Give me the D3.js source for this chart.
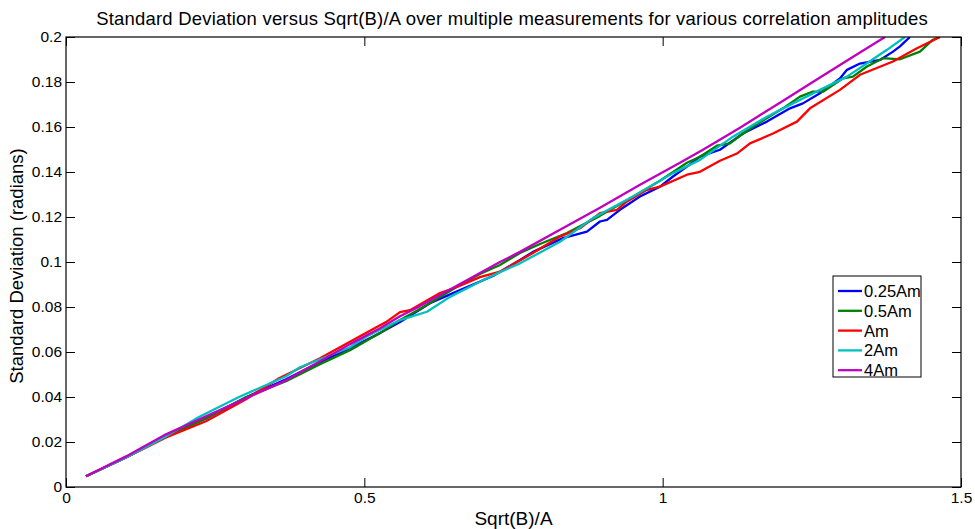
<!DOCTYPE html>
<html>
<head>
<meta charset="utf-8">
<script src="https://cdn.jsdelivr.net/npm/d3@7"></script>
<style>
  html, body { margin: 0; padding: 0; background: #fff; }
  svg text { font-family: "Liberation Sans", Arial, sans-serif; fill: #000; }
</style>
</head>
<body>
<div id="chart"></div>
<script>
// tick values and labels
const xTicks = [0, 0.5, 1, 1.5];
const xTickLabels = ["0", "0.5", "1", "1.5"];
const yTicks = [0, 0.02, 0.04, 0.06, 0.08, 0.1, 0.12, 0.14, 0.16, 0.18, 0.2];
const yTickLabels = ["0", "0.02", "0.04", "0.06", "0.08", "0.1", "0.12", "0.14", "0.16", "0.18", "0.2"];

const seriesNames = ["0.25Am", "0.5Am", "Am", "2Am", "4Am"];
const seriesColors = ["#0000ff", "#008000", "#ff0000", "#00bfbf", "#bf00bf"];

// [Sqrt(B)/A, std dev]
const am025 = [[0.0335,0.0048],[0.1006,0.0131],[0.1676,0.0225],[0.2346,0.0305],[0.3017,0.0399],[0.3687,0.0479],
  [0.4257,0.0555],[0.4760,0.0617],[0.5262,0.0684],[0.5598,0.0733],[0.6100,0.0817],[0.6603,0.0875],[0.7156,0.0938],
  [0.7609,0.1009],[0.7826,0.1045],[0.8329,0.1106],[0.8731,0.1135],[0.8949,0.1180],[0.9067,0.1187],[0.9284,0.1232],
  [0.9620,0.1291],[0.9955,0.1335],[1.0173,0.1380],[1.0407,0.1424],[1.0625,0.1468],[1.0960,0.1499],[1.1346,0.1571],
  [1.1748,0.1624],[1.2134,0.1683],[1.2351,0.1705],[1.2636,0.1750],[1.2971,0.1816],[1.3089,0.1854],[1.3307,0.1882],
  [1.3642,0.1898],[1.3860,0.1935],[1.3977,0.1958],[1.4144,0.2]];
const am05 = [[0.0335,0.0048],[0.1006,0.0131],[0.1676,0.0225],[0.2346,0.0305],[0.3017,0.0399],[0.3687,0.0470],
  [0.4257,0.0546],[0.4760,0.0608],[0.5262,0.0684],[0.5598,0.0742],[0.5933,0.0791],[0.6268,0.0844],[0.6603,0.0898],
  [0.6938,0.0947],[0.7273,0.0987],[0.7609,0.1040],[0.7944,0.1080],[0.8396,0.1129],[0.8949,0.1205],[0.9502,0.1290],
  [0.9955,0.1361],[1.0407,0.1441],[1.0625,0.1468],[1.0910,0.1517],[1.1128,0.1527],[1.1296,0.1561],[1.1513,0.1601],
  [1.2016,0.1683],[1.2301,0.1735],[1.2519,0.1757],[1.2687,0.1757],[1.3022,0.1816],[1.3189,0.1824],[1.3424,0.1869],
  [1.3692,0.1906],[1.3977,0.1901],[1.4312,0.1935],[1.4530,0.1988],[1.4647,0.2]];
const am1 = [[0.0335,0.0048],[0.1006,0.0131],[0.1676,0.0220],[0.2346,0.0292],[0.3017,0.0390],[0.3570,0.0483],
  [0.4257,0.0572],[0.4592,0.0621],[0.4927,0.0670],[0.5363,0.0733],[0.5598,0.0777],[0.5765,0.0786],[0.6268,0.0862],
  [0.6553,0.0889],[0.6938,0.0933],[0.7273,0.0957],[0.7826,0.1040],[0.8279,0.1113],[0.8614,0.1150],[0.8949,0.1217],
  [0.9234,0.1232],[0.9402,0.1269],[0.9737,0.1321],[0.9955,0.1335],[1.0407,0.1388],[1.0625,0.1401],[1.0960,0.1450],
  [1.1245,0.1482],[1.1463,0.1527],[1.1849,0.1571],[1.2251,0.1624],[1.2469,0.1683],[1.2971,0.1765],[1.3307,0.1832],
  [1.3860,0.1891],[1.4262,0.1950],[1.4647,0.2]];
const am2 = [[0.0335,0.0048],[0.1006,0.0131],[0.1676,0.0225],[0.2229,0.0311],[0.2899,0.0400],[0.3687,0.0492],
  [0.3922,0.0532],[0.4257,0.0568],[0.4760,0.0621],[0.5044,0.0670],[0.5598,0.0742],[0.6050,0.0779],[0.6435,0.0845],
  [0.6938,0.0912],[0.7273,0.0955],[0.7609,0.0994],[0.8279,0.1090],[0.8832,0.1195],[0.9502,0.1291],[1.0173,0.1395],
  [1.0625,0.1454],[1.1178,0.1557],[1.1748,0.1646],[1.2184,0.1705],[1.2636,0.1765],[1.3089,0.1824],[1.3424,0.1883],
  [1.3759,0.1943],[1.4061,0.2]];
const am4 = [[0.0335,0.0048],[0.1006,0.0136],[0.1676,0.0234],[0.2346,0.0314],[0.3017,0.0394],[0.3687,0.0474],
  [0.4257,0.0559],[0.4760,0.0635],[0.5262,0.0706],[0.5598,0.0759],[0.5933,0.0804],[0.6268,0.0853],[0.6603,0.0902],
  [0.6938,0.0951],[0.7273,0.1000],[0.7609,0.1045],[0.8279,0.1143],[0.8949,0.1241],[0.9620,0.1343],[1.0290,0.1441],
  [1.0675,0.1499],[1.1296,0.1597],[1.1966,0.1708],[1.2636,0.1820],[1.3307,0.1931],[1.3726,0.2]];

const seriesData = [am025, am05, am1, am2, am4];

function renderChart() {
    let margin = {top: 37, right: 14, bottom: 42, left: 66},
        width = 975 - margin.left - margin.right,
        height = 529 - margin.top - margin.bottom;

    let svg = d3.select("#chart")
        .append("svg")
        .attr("width", 975)
        .attr("height", 529);

    let g = svg.append("g")
        .attr("transform", `translate(${margin.left}, ${margin.top})`);

    let x = d3.scaleLinear().domain([0, 1.5]).range([0, width]);
    let y = d3.scaleLinear().domain([0, 0.2]).range([height, 0]);

    // clip so lines stop at the box
    g.append("clipPath").attr("id", "plot-clip")
        .append("rect").attr("width", width).attr("height", height);

    // lines
    let line = d3.line()
        .x(d => x(d[0]))
        .y(d => y(d[1]));

    g.append("g")
        .attr("clip-path", "url(#plot-clip)")
        .selectAll("path")
        .data(seriesData)
        .enter()
        .append("path")
        .attr("d", d => line(d))
        .attr("stroke", (d, i) => seriesColors[i])
        .style("stroke-width", 2.3)
        .style("stroke-linejoin", "round")
        .style("fill", "none");

    // axes, ticks pointing inward on all four sides
    let fontSize = "15.5px";
    g.append("g")
        .attr("transform", `translate(0, ${height})`)
        .call(d3.axisBottom(x).tickValues(xTicks).tickFormat((d, i) => xTickLabels[i]).tickSize(-9).tickPadding(5))
        .call(a => a.select(".domain").remove())
        .call(a => a.selectAll("text").style("font-size", fontSize).attr("dy", "0.71em"));
    g.append("g")
        .call(d3.axisTop(x).tickValues(xTicks).tickFormat("").tickSize(-9))
        .call(a => a.select(".domain").remove());
    g.append("g")
        .call(d3.axisLeft(y).tickValues(yTicks).tickFormat((d, i) => yTickLabels[i]).tickSize(-9).tickPadding(4))
        .call(a => a.select(".domain").remove())
        .call(a => a.selectAll("text").style("font-size", fontSize));
    g.append("g")
        .attr("transform", `translate(${width}, 0)`)
        .call(d3.axisRight(y).tickValues(yTicks).tickFormat("").tickSize(-9))
        .call(a => a.select(".domain").remove());

    g.append("rect")
        .attr("width", width)
        .attr("height", height)
        .attr("fill", "none")
        .attr("stroke", "#000")
        .attr("stroke-width", 1.2);

    // title and axis labels
    svg.append("text")
        .attr("x", 512)
        .attr("y", 25)
        .attr("text-anchor", "middle")
        .style("font-size", "18.5px")
        .style("letter-spacing", "0.2px")
        .text("Standard Deviation versus Sqrt(B)/A over multiple measurements for various correlation amplitudes");

    svg.append("text")
        .attr("x", margin.left + width / 2)
        .attr("y", 525)
        .attr("text-anchor", "middle")
        .style("font-size", "19px")
        .text("Sqrt(B)/A");

    svg.append("text")
        .attr("transform", `translate(23, ${margin.top + height / 2 + 4}) rotate(-90)`)
        .attr("text-anchor", "middle")
        .style("font-size", "18.5px")
        .text("Standard Deviation (radians)");

    // legend
    let legend = svg.append("g").attr("transform", "translate(833, 276)");
    legend.append("rect")
        .attr("width", 88)
        .attr("height", 101)
        .attr("fill", "#fff")
        .attr("stroke", "#000")
        .attr("stroke-width", 1);
    let items = legend.selectAll(".item")
        .data(seriesNames)
        .enter()
        .append("g")
        .attr("class", "item")
        .attr("transform", (d, i) => `translate(0, ${15 + i * 19.8})`);
    items.append("line")
        .attr("x1", 5).attr("x2", 29)
        .attr("stroke", (d, i) => seriesColors[i])
        .attr("stroke-width", 2.3);
    items.append("text")
        .attr("x", 31)
        .attr("dy", "0.36em")
        .style("font-size", "16.5px")
        .text(d => d);
}

renderChart();
</script>
</body>
</html>
